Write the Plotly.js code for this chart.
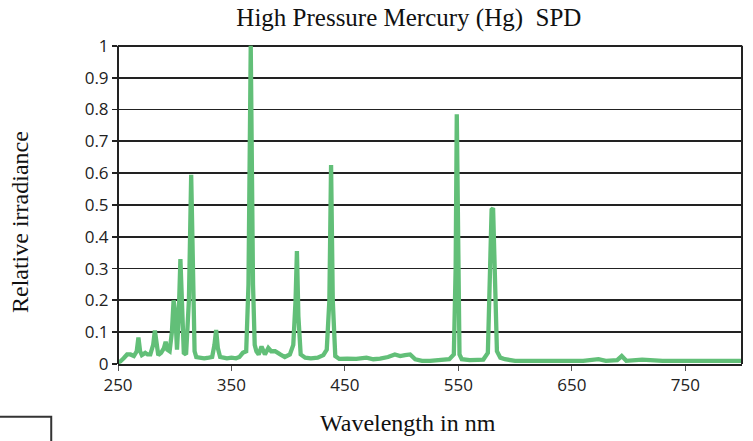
<!DOCTYPE html>
<html>
<head>
<meta charset="utf-8">
<script src="https://cdn.plot.ly/plotly-3.0.1.min.js"></script>
<style>html,body{margin:0;padding:0;background:#fff;}#chart{width:753px;height:441px;}</style>
</head>
<body>
<div id="chart"></div>
<script>
const wavelength = [250,252,255,258,261,264,266.5,268,269.5,271,274,276,278.5,281,282.5,284,285.5,288,290.5,292,293.5,295.5,297.5,299,300.5,302,303.5,305,306.5,308,310,312.5,314.5,316,317.5,319,322,326,330,333,335,336.5,338,340,343,346,350,354,357,360,363,365,367,369,370.5,372,374,376.5,379.5,382.5,385,388.5,393,397,401.5,404.5,406.5,407.7,409,411,415,420,426,431,434,436.3,437.8,439.3,441.5,445,452,460,469,475,481,488,494,498.7,503,507.5,512,518,525,534,542,546,547.6,548.6,549.6,551,553,560,567,572,576,578,579.3,580.6,582,584,587,591,600,620,640,660,673.5,680,690,694,698,712,730,750,776.5,790,800];
const irradiance = [0.005,0.008,0.018,0.03,0.03,0.025,0.04,0.083,0.04,0.028,0.035,0.03,0.03,0.06,0.105,0.06,0.028,0.035,0.05,0.07,0.045,0.04,0.1,0.2,0.16,0.045,0.15,0.33,0.15,0.035,0.03,0.2,0.595,0.2,0.04,0.022,0.02,0.018,0.02,0.022,0.06,0.107,0.05,0.022,0.02,0.018,0.02,0.018,0.022,0.035,0.04,0.25,1.0,0.25,0.06,0.04,0.03,0.055,0.03,0.05,0.04,0.04,0.03,0.022,0.03,0.06,0.2,0.355,0.15,0.03,0.02,0.018,0.02,0.028,0.045,0.2,0.625,0.2,0.025,0.016,0.017,0.016,0.02,0.015,0.017,0.022,0.03,0.025,0.028,0.03,0.015,0.01,0.01,0.012,0.015,0.03,0.3,0.785,0.3,0.03,0.015,0.012,0.013,0.014,0.035,0.3,0.485,0.49,0.3,0.04,0.02,0.015,0.01,0.01,0.01,0.01,0.015,0.01,0.012,0.025,0.01,0.014,0.01,0.01,0.012,0.01,0.01];
const xTicks = [250,350,450,550,650,750];
const yTicks = [0,0.1,0.2,0.3,0.4,0.5,0.6,0.7,0.8,0.9,1];
const yTickText = ['0','0.1','0.2','0.3','0.4','0.5','0.6','0.7','0.8','0.9','1'];
const chartTitle = 'High Pressure Mercury (Hg)\u00a0 SPD';
const xTitle = 'Wavelength in nm';
const yTitle = 'Relative irradiance';

const serif = 'Liberation Serif, Times New Roman, serif';
const sans = 'Open Sans, sans-serif';
const dark = '#222222';

const trace = {
  x: wavelength, y: irradiance, type: 'scatter', mode: 'lines',
  line: {color: '#62bf78', width: 4.3}, hoverinfo: 'x+y'
};

const layout = {
  width: 753, height: 441,
  margin: {l: 118, r: 11, t: 42, b: 77},
  paper_bgcolor: '#ffffff', plot_bgcolor: '#ffffff',
  showlegend: false,
  title: {
    text: chartTitle,
    font: {family: serif, size: 25, color: '#111'},
    xref: 'container', x: 0.543, xanchor: 'center',
    yref: 'container', y: 0.96, yanchor: 'middle'
  },
  xaxis: {
    range: [250, 800], tickvals: xTicks, ticktext: xTicks.map(String),
    showgrid: false, zeroline: false,
    showline: true, linecolor: dark, linewidth: 2,
    ticks: 'outside', ticklen: 5, tickcolor: '#555', tickwidth: 1,
    tickfont: {family: sans, size: 17, color: '#222'}
  },
  yaxis: {
    range: [0, 1.012], tickvals: yTicks, ticktext: yTickText,
    showgrid: true, gridcolor: dark, gridwidth: 1.8,
    zeroline: false, showline: false,
    ticks: 'outside', ticklen: 5, tickcolor: dark, tickwidth: 1.8,
    tickfont: {family: sans, size: 17, color: '#222'}
  },
  annotations: [
    {text: xTitle, xref: 'paper', yref: 'paper', x: 0.4655, y: -0.183, xanchor: 'center', yanchor: 'middle',
     showarrow: false, font: {family: serif, size: 24, color: '#111'}},
    {text: yTitle, xref: 'paper', yref: 'paper', x: -0.157, y: 0.441, xanchor: 'center', yanchor: 'middle',
     textangle: -90, showarrow: false, font: {family: serif, size: 24, color: '#111'}}
  ],
  shapes: [
    {type: 'line', xref: 'paper', yref: 'y', x0: 0, x1: 0, y0: 0, y1: 1, line: {color: dark, width: 2}},
    {type: 'line', xref: 'paper', yref: 'y', x0: 1, x1: 1, y0: 0, y1: 1, line: {color: dark, width: 2}},
    {type: 'rect', xref: 'paper', yref: 'paper', x0: -0.25, x1: -0.107, y0: -0.35, y1: -0.1635, line: {color: '#333', width: 2}, fillcolor: 'rgba(0,0,0,0)'}
  ]
};

Plotly.newPlot('chart', [trace], layout, {staticPlot: true, displayModeBar: false});
</script>
</body>
</html>
